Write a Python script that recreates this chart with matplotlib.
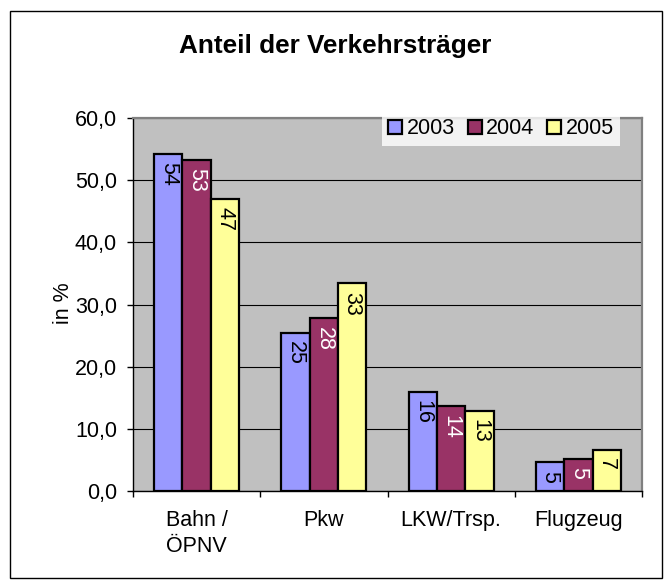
import matplotlib
matplotlib.use("Agg")
import matplotlib.pyplot as plt
from matplotlib.patches import Rectangle
import numpy as np

plt.rcParams['font.family'] = ['Liberation Sans', 'DejaVu Sans']

categories = ["Bahn /\nÖPNV", "Pkw", "LKW/Trsp.", "Flugzeug"]
years = ["2003", "2004", "2005"]
v2003 = [54.2, 25.4, 15.9, 4.6]
v2004 = [53.3, 27.8, 13.6, 5.2]
v2005 = [47.0, 33.4, 12.9, 6.6]
series = [v2003, v2004, v2005]
colors = ["#9999FF", "#993366", "#FFFF99"]
label_colors = ["black", "white", "black"]
yticks = [0, 10, 20, 30, 40, 50, 60]

W, H = 667, 583
fig = plt.figure(figsize=(W / 100, H / 100), dpi=100)
fig.patch.set_facecolor("white")

# outer chart frame
fig.patches.append(Rectangle((10 / W, 1 - 578 / H), (662 - 10) / W, (578 - 11) / H,
                             transform=fig.transFigure, fill=False,
                             edgecolor="black", lw=1.0))

ax = fig.add_axes([133 / W, 1 - 491 / H, 509 / W, 373 / H])
ax.set_facecolor("#C0C0C0")

x = np.arange(len(categories))
bw = 1 / 4.5
for i, (vals, col, lc) in enumerate(zip(series, colors, label_colors)):
    xs = x + (i - 1) * bw
    bars = ax.bar(xs, vals, width=bw, color=col, edgecolor="black", linewidth=1.6,
                  label=years[i], zorder=3)
    for b, v in zip(bars, vals):
        ax.annotate(f"{v:.0f}", xy=(b.get_x() + b.get_width() / 2, b.get_height()),
                    xytext=(0, -6), textcoords="offset points",
                    rotation=-90, ha="center", va="top", fontsize=15.5,
                    color=lc, zorder=4)

ax.set_xlim(-0.5, len(categories) - 0.5)
ax.set_ylim(0, 60)
ax.set_yticks(yticks)
ax.set_yticklabels([f"{t:.1f}".replace(".", ",") for t in yticks], fontsize=15.5)
ax.tick_params(axis="y", length=4.5, width=1, pad=7, color="black")

ax.set_xticks(x)
ax.set_xticklabels(categories, fontsize=15.5, linespacing=1.3, va="top")
ax.tick_params(axis="x", which="major", length=0, pad=14)
ax.set_xticks(np.arange(-0.5, len(categories), 1.0), minor=True)
ax.tick_params(axis="x", which="minor", length=4.5, width=1, color="black")

ax.set_axisbelow(True)
ax.yaxis.grid(True, color="black", linewidth=0.8, zorder=0.5)
ax.xaxis.grid(False)

for s in ["top", "right"]:
    ax.spines[s].set_color("#808080")
    ax.spines[s].set_linewidth(1.6)
for s in ["left", "bottom"]:
    ax.spines[s].set_color("black")
    ax.spines[s].set_linewidth(1.0)

fig.text(0.503, 1 - 53 / H, "Anteil der Verkehrsträger", ha="center", va="baseline",
         fontsize=18.8, fontweight="bold")

fig.text(63.5 / W, 1 - 303.5 / H, "in %", rotation=90, ha="center", va="center",
         fontsize=15.5)

handles, labels = ax.get_legend_handles_labels()
leg = fig.legend(handles, labels, ncol=3, loc="center",
                 bbox_to_anchor=(501 / W, 1 - 129 / H),
                 fontsize=15.5, frameon=True, fancybox=False,
                 handlelength=0.65, handleheight=0.65, handletextpad=0.2,
                 columnspacing=0.6, borderpad=0.3, borderaxespad=0)
leg.get_frame().set_facecolor("white")
leg.get_frame().set_edgecolor("white")
leg.get_frame().set_linewidth(0)
for h in leg.legend_handles:
    h.set_linewidth(1.6)

fig.savefig("out.png", dpi=100)
